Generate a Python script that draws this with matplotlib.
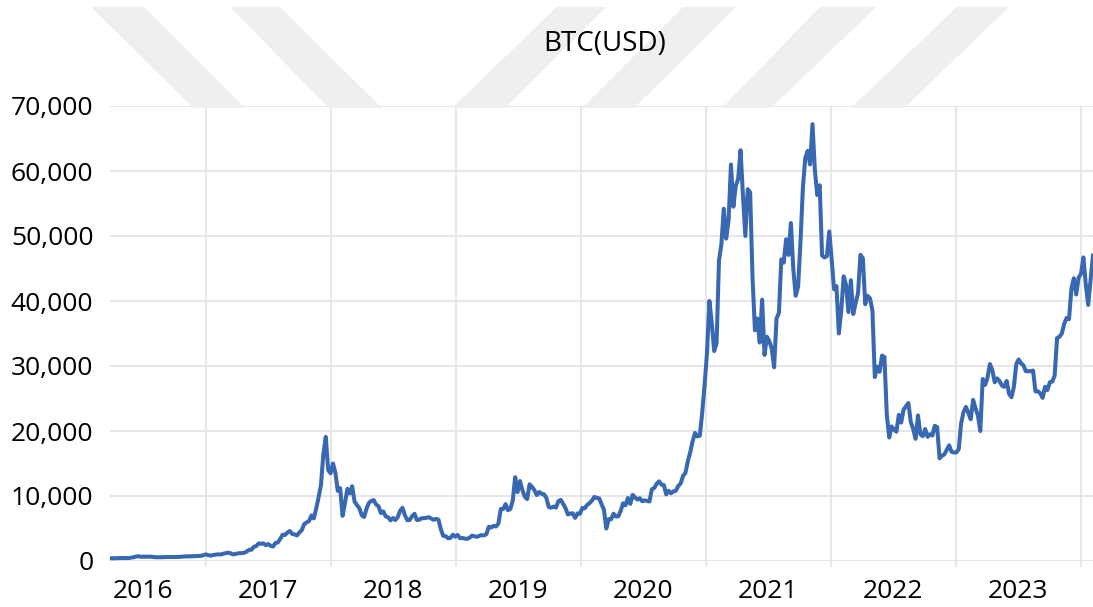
import pandas as pd
import matplotlib
matplotlib.use("Agg")
import matplotlib.pyplot as plt
from matplotlib.patches import Polygon
from matplotlib.ticker import FuncFormatter, MultipleLocator

plt.rcParams['font.family'] = ['Open Sans', 'DejaVu Sans']

# weekly BTC closes (USD), Mondays from 2016-03-28
close_2016 = [420,
              420, 422, 428, 462,
              445, 460, 455, 445, 535,
              585, 700, 735, 650,
              670, 650, 670, 655,
              610, 590, 570, 585, 575,
              610, 608, 610, 605,
              612, 618, 638, 655, 700,
              712, 705, 738, 735,
              760, 780, 790, 905]
close_2017 = [1020, 900, 830, 920, 970,
              1025, 995, 1080, 1190,
              1275, 1240, 1040, 1045,
              1145, 1210, 1210, 1270,
              1450, 1720, 1730, 2190, 2300,
              2700, 2650, 2710, 2420,
              2610, 2330, 2230, 2760, 2850,
              3400, 4050, 4000, 4380,
              4600, 4160, 4100, 3930,
              4400, 4760, 5680, 5930, 6130,
              7000, 6550, 8040, 9800,
              11700, 16500, 19100, 14000]
close_2018 = [13500, 15000, 13600, 10800, 11200,
              6950, 8900, 11100, 10400,
              11500, 9150, 8600, 8130,
              7030, 6770, 8060, 8940, 9240,
              9370, 8680, 8420, 7370,
              7630, 6870, 6710, 6250,
              6620, 6300, 6740, 7720, 8180,
              7030, 6270, 6310, 6910,
              7260, 6300, 6350, 6590,
              6590, 6640, 6740, 6530, 6340,
              6480, 6350, 4870, 3870,
              3820, 3500, 3550, 4040, 3740]
close_2019 = [4000, 3510, 3540, 3440,
              3410, 3590, 3900, 3800,
              3710, 3860, 3990, 3930,
              4140, 5270, 5150, 5400, 5310,
              5750, 8000, 8000, 8750,
              7810, 8030, 9320, 12900,
              10600, 12300, 10900, 9900, 9530,
              11800, 11400, 10900, 10140,
              10620, 10340, 10270, 9700, 8300,
              8200, 8370, 8220, 9200,
              9410, 8800, 8120, 7150,
              7300, 7340, 6640, 7320, 7260]
close_2020 = [8160, 8110, 8630, 8900,
              9290, 9850, 9700, 9650,
              8750, 7910, 5000, 6450, 6420,
              7280, 6850, 6880, 7700,
              8880, 8560, 9700, 8790,
              10170, 9780, 9450, 9650, 9190,
              9340, 9240, 9160, 11050,
              11220, 11880, 12250, 11750, 11680,
              10250, 10800, 10420, 10710,
              10800, 11540, 11920, 13080,
              13550, 15330, 16720, 18410, 19700,
              19170, 19270, 22800, 27080]
close_2021 = [32000, 40000, 36600, 32300,
              33500, 46200, 48700, 54200,
              49600, 52400, 61000, 54500, 57700,
              58800, 63200, 56200, 50000,
              57200, 56700, 43500, 35500, 37300,
              33600, 40200, 31700, 34500,
              33800, 32700, 29800, 37300,
              38200, 46400, 45900, 49500, 47100,
              52000, 44900, 40800, 42200,
              49100, 57500, 62000, 63100,
              61000, 67200, 60100, 56300, 57800,
              47000, 46700, 46900, 50700]
close_2022 = [46400, 41800, 42300, 35000, 38500,
              43800, 42500, 38300, 43200,
              38000, 39700, 41200, 47100,
              46600, 39500, 40800, 40400,
              38500, 28300, 29900, 29100, 31600,
              31400, 22500, 19000, 20700,
              20200, 19900, 22500, 21300,
              23300, 23800, 24300, 21400, 20300,
              18800, 22400, 19500, 19200,
              20300, 19100, 19500, 19300, 20800,
              20600, 15800, 16200, 16400,
              17100, 17800, 16800, 16700]
close_2023 = [16700, 17200, 21200, 22900, 23700,
              22800, 21800, 24800, 23500,
              22400, 20000, 28000, 27100,
              28200, 30300, 29400, 27500,
              28100, 27700, 27000, 26800, 27700,
              25700, 25200, 26800, 30300,
              31000, 30400, 30100, 29200, 29200,
              29200, 29300, 26100, 26100,
              25800, 25100, 26800, 26300,
              27500, 27600, 28500, 34300, 34500,
              35000, 36500, 37400, 37200,
              41900, 43500, 41000, 43600]
close_2024 = [44200, 46700, 42500, 39400, 43300, 47000]

close = (close_2016 + close_2017 + close_2018 + close_2019 + close_2020
         + close_2021 + close_2022 + close_2023 + close_2024)
dates = pd.date_range("2016-03-28", periods=len(close), freq="7D")

years = list(range(2016, 2024))
grid_col = "#e4e4e4"
line_col = "#3868b1"

fig = plt.figure(figsize=(10.93, 6.07), dpi=100)
W, H = 1093, 607

# faint diagonal bands behind the title
bands = [
    [(91, 7), (144, 7), (245, 108), (193, 108)],
    [(230, 7), (280, 7), (382, 108), (329, 108)],
    [(557, 7), (606, 7), (505, 108), (452, 108)],
    [(683, 7), (736, 7), (634, 108), (582, 108)],
    [(820, 7), (876, 7), (771, 108), (722, 108)],
    [(957, 7), (1009, 7), (904, 108), (851, 108)],
]
for b in bands:
    pts = [(x / W, 1 - y / H) for x, y in b]
    fig.patches.append(Polygon(pts, closed=True, transform=fig.transFigure,
                               facecolor="#efefef", edgecolor="none", zorder=0))

ax = fig.add_axes([110 / W, 1 - 561 / H, (W - 110) / W, (561 - 106) / H])
ax.set_facecolor("none")

ax.plot(dates, close, color=line_col, lw=2.9, solid_joinstyle="round", zorder=3)

ax.set_ylim(0, 70000)
ax.set_xlim(pd.Timestamp("2016-03-28"), dates[-1])
ax.yaxis.set_major_locator(MultipleLocator(10000))
ax.yaxis.set_major_formatter(FuncFormatter(lambda v, p: f"{int(v):,}"))

# gridlines on year boundaries, labels mid-year
ax.set_xticks([pd.Timestamp(f"{y + 1}-01-01") for y in years])
ax.set_xticklabels([])
ax.set_xticks([pd.Timestamp(f"{y}-07-01") for y in years], minor=True)
ax.set_xticklabels([str(y) for y in years], minor=True)

ax.grid(True, which="major", color=grid_col, lw=1.3, zorder=0)
ax.tick_params(axis="x", which="major", length=4, width=1.3, color=grid_col)
ax.tick_params(axis="x", which="minor", length=0, pad=13, labelsize=19)
ax.tick_params(axis="y", length=0, pad=12, labelsize=19)
for s in ax.spines.values():
    s.set_visible(False)

fig.text(605 / W, 1 - 44 / H, "BTC(USD)", ha="center", va="center", fontsize=20)

fig.savefig("out.png", dpi=100)
